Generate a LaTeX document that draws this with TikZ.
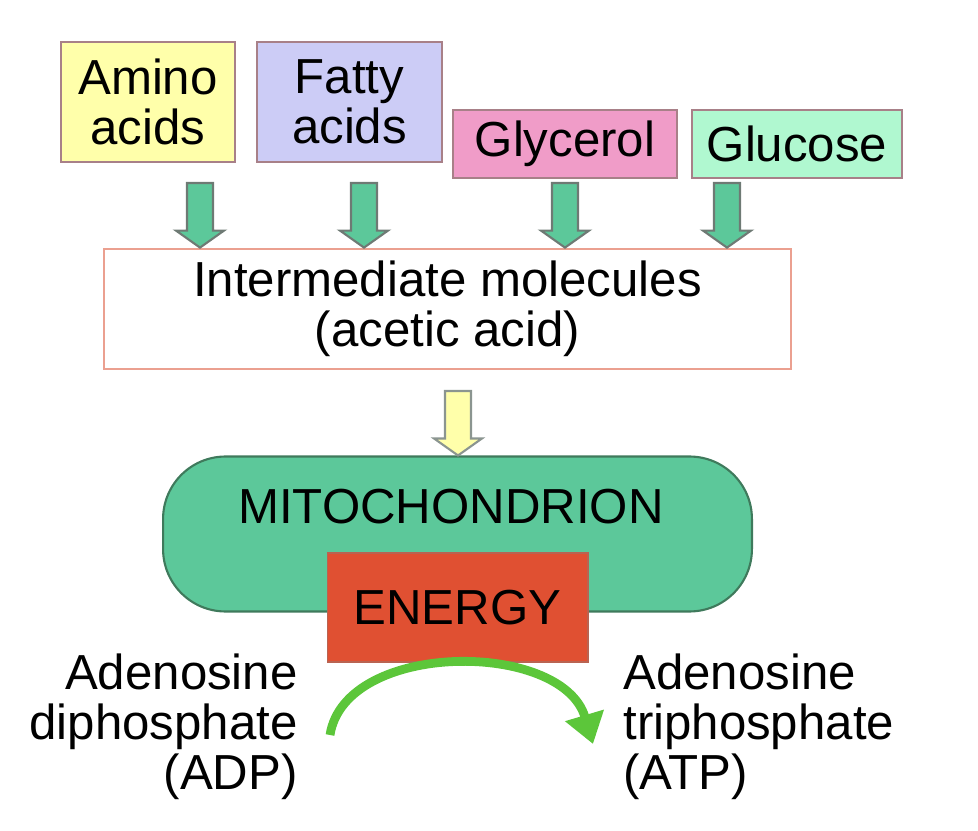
\documentclass[tikz,border=0pt]{standalone}
\usepackage{fontspec}
\setmainfont{Liberation Sans}
\usetikzlibrary{arrows.meta, positioning, calc}
\definecolor{cyellow}{HTML}{FFFFAA}
\definecolor{clilac}{HTML}{CCCCF6}
\definecolor{cpink}{HTML}{F09CC8}
\definecolor{cmint}{HTML}{B0F8D0}
\definecolor{cmauve}{HTML}{A88088}
\definecolor{csalmon}{HTML}{EBA090}
\definecolor{cgreen}{HTML}{5CC89A}
\definecolor{cdkgreen}{HTML}{3F7A5C}
\definecolor{cgreyline}{HTML}{6E7A74}
\definecolor{cred}{HTML}{E05032}
\definecolor{clime}{HTML}{5CC63A}
\newcommand{\diagfont}{\fontsize{28}{28.5}\selectfont}
\newcommand{\fatarrow}[3]{%
  \draw[#1] ($(#2)+(-13,0)$) -- ($(#3)+(-13,-17)$) -- ($(#3)+(-24,-17)$) -- (#3)
    -- ($(#3)+(24,-17)$) -- ($(#3)+(13,-17)$) -- ($(#2)+(13,0)$) -- cycle;}
\tikzset{
  every picture/.style={font=\diagfont},
  box/.style={draw=cmauve, fill=#1, line width=1.6pt, inner sep=0pt, align=center},
  box/.default=white,
  greenarrow/.style={draw=cgreyline, fill=cgreen, line width=1.2pt},
  yellowarrow/.style={draw=cgreyline!80, fill=cyellow, line width=1.2pt},
  cycle arrow/.style={draw=clime, line width=5pt, -{Triangle[length=17pt, width=22pt]}},
  label text/.style={inner sep=0pt},
}

\begin{document}
\begin{tikzpicture}[x=0.02cm, y=-0.02cm]
  \useasboundingbox (0,0) rectangle (978,831);
  % sources
  \node[box=cyellow, minimum width=3.48cm, minimum height=2.4cm] (amino) at (148,102) {Amino\\acids};
  \node[box=clilac, minimum width=3.7cm, minimum height=2.4cm] (fatty) at (349.5,102) {Fatty\\acids};
  \node[box=cpink, minimum width=4.48cm, minimum height=1.36cm] (glycerol) at (565,144) {Glycerol};
  \node[box=cmint, minimum width=4.2cm, minimum height=1.36cm] (glucose) at (797,144) {Glucose};
  \node[box, draw=csalmon, minimum width=13.74cm, minimum height=2.4cm] (inter) at (447.5,309) {Intermediate molecules\\(acetic acid)};
  \foreach \x in {200,364,565,727} {
    \coordinate (top) at (\x,183);
    \coordinate (tip) at (inter.north -| top);
    \fatarrow{greenarrow}{top}{tip}
  }
  % mitochondrion
  \node[draw=cdkgreen, fill=cgreen, line width=1.2pt, rounded corners=1.25cm,
        minimum width=11.78cm, minimum height=3.1cm] (mito) at (457.5,534) {};
  \node[label text] (mitotext) at (451,507) {MITOCHONDRION};
  \coordinate (ytop) at (458,391);
  \coordinate (ytip) at (mito.north -| ytop);
  \fatarrow{yellowarrow}{ytop}{ytip}
  \node[fill=cred, draw=cred!60!gray, line width=0.6pt, minimum width=5.22cm, minimum height=2.18cm] (energy) at (457.5,607.5) {ENERGY};
  % ADP -> ATP
  \node[label text, align=right, anchor=east] (adp) at (298,727) {Adenosine\\diphosphate\\(ADP)};
  \node[label text, align=left, anchor=west] (atp) at (623,727) {Adenosine\\triphosphate\\(ATP)};
  \coordinate (adpend) at (330,735);
  \coordinate (atpend) at (593,744);
  \draw[cycle arrow] (adpend) .. controls (345,640) and (562,640) .. (atpend);
\end{tikzpicture}
\end{document}
